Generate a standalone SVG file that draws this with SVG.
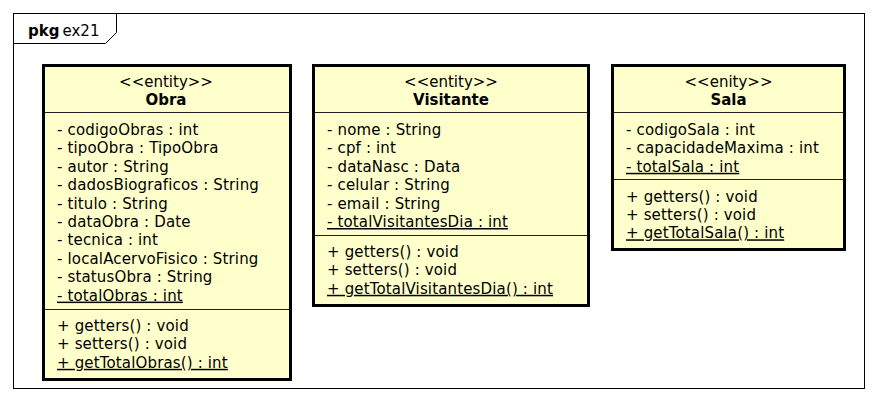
<svg xmlns="http://www.w3.org/2000/svg" width="878" height="402" viewBox="0 0 878 402">
<style>
.bg{fill:#ffffff}
.frame{fill:none;stroke:#000;stroke-width:1}
.box{fill:#ffffcc;stroke:#000;stroke-width:3}
.sep{stroke:#222;stroke-width:1}
text{font-family:"DejaVu Sans",Verdana,sans-serif;font-size:15px;fill:#000}
.m{letter-spacing:0.15px}
.c{text-anchor:middle}
.b{font-weight:bold}
.u{text-decoration:underline}
</style>
<rect class="bg" x="0" y="0" width="878" height="402"/>
<g id="package">
<rect class="frame" x="13.5" y="13.5" width="851" height="375"/>
<path class="frame" d="M13.5 43.5 H105.5 L116.5 32.5 V13.5"/>
<text x="28" y="36" class="b">pkg</text>
<text x="62.5" y="36">ex21</text>
</g>
<g id="Obra">
<rect class="box" x="43.5" y="65.5" width="247" height="314"/>
<text class="c" x="166" y="87">&lt;&lt;entity&gt;&gt;</text>
<text class="c b" x="166" y="105">Obra</text>
<line class="sep" x1="45" y1="112.5" x2="289" y2="112.5"/>
<g class="m">
<text x="57" y="135">- codigoObras : int</text>
<text x="57" y="153.4">- tipoObra : TipoObra</text>
<text x="57" y="171.8">- autor : String</text>
<text x="57" y="190.2">- dadosBiograficos : String</text>
<text x="57" y="208.6">- titulo : String</text>
<text x="57" y="227">- dataObra : Date</text>
<text x="57" y="245.4">- tecnica : int</text>
<text x="57" y="263.8">- localAcervoFisico : String</text>
<text x="57" y="282.2">- statusObra : String</text>
<text x="57" y="300.6" class="u">- totalObras : int</text>
<text x="57" y="331">+ getters() : void</text>
<text x="57" y="349.4">+ setters() : void</text>
<text x="57" y="367.8" class="u">+ getTotalObras() : int</text>
</g>
<line class="sep" x1="45" y1="309.5" x2="289" y2="309.5"/>
</g>
<g id="Visitante">
<rect class="box" x="313.5" y="65.5" width="275" height="240"/>
<text class="c" x="451" y="87">&lt;&lt;entity&gt;&gt;</text>
<text class="c b" x="451" y="105">Visitante</text>
<line class="sep" x1="315" y1="112.5" x2="587" y2="112.5"/>
<g class="m">
<text x="327" y="135">- nome : String</text>
<text x="327" y="153.4">- cpf : int</text>
<text x="327" y="171.8">- dataNasc : Data</text>
<text x="327" y="190.2">- celular : String</text>
<text x="327" y="208.6">- email : String</text>
<text x="327" y="227" class="u">- totalVisitantesDia : int</text>
<text x="327" y="257">+ getters() : void</text>
<text x="327" y="275.4">+ setters() : void</text>
<text x="327" y="293.8" class="u">+ getTotalVisitantesDia() : int</text>
</g>
<line class="sep" x1="315" y1="235.5" x2="587" y2="235.5"/>
</g>
<g id="Sala">
<rect class="box" x="612.5" y="65.5" width="232" height="184"/>
<text class="c" x="728.5" y="87">&lt;&lt;enity&gt;&gt;</text>
<text class="c b" x="728.5" y="105">Sala</text>
<line class="sep" x1="614" y1="112.5" x2="843" y2="112.5"/>
<g class="m">
<text x="626" y="135">- codigoSala : int</text>
<text x="626" y="153.4">- capacidadeMaxima : int</text>
<text x="626" y="171.8" class="u">- totalSala : int</text>
<text x="626" y="201.5">+ getters() : void</text>
<text x="626" y="219.9">+ setters() : void</text>
<text x="626" y="238.3" class="u">+ getTotalSala() : int</text>
</g>
<line class="sep" x1="614" y1="179.5" x2="843" y2="179.5"/>
</g>
<g id="connectors"></g>
</svg>
